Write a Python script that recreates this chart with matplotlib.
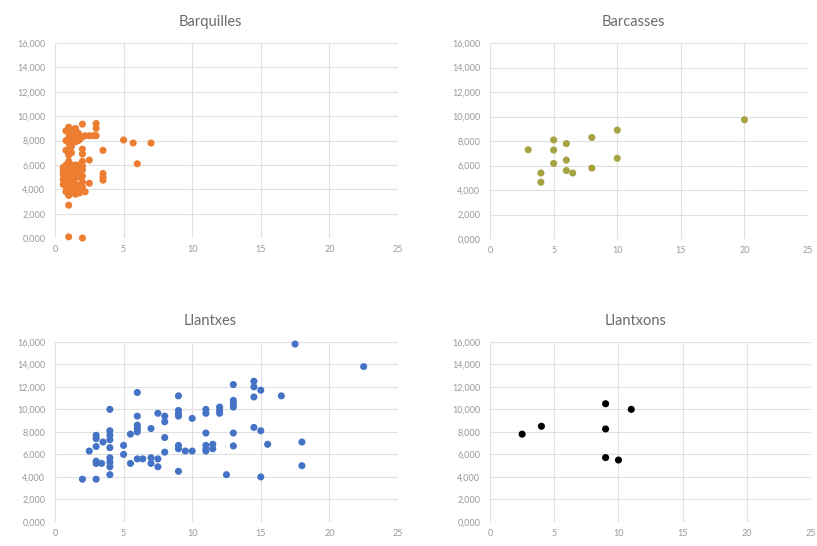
import matplotlib.pyplot as plt
from matplotlib.ticker import FuncFormatter

plt.rcParams['font.family'] = ['Lato', 'DejaVu Sans']

barquilles_x = [1.0, 2.0,
                0.6, 0.6, 0.6, 0.6, 0.6,
                0.8, 0.8, 0.8, 0.8, 0.8, 0.8, 0.8, 0.8, 0.8, 0.8,
                1.0, 1.0, 1.0, 1.0, 1.0, 1.0, 1.0, 1.0, 1.0, 1.0, 1.0, 1.0, 1.0, 1.0,
                1.2, 1.2, 1.2, 1.2, 1.2, 1.2, 1.2, 1.2, 1.2, 1.2, 1.2,
                1.4, 1.4, 1.4, 1.4, 1.4, 1.4,
                1.5, 1.5, 1.5, 1.5, 1.5, 1.5, 1.5, 1.5, 1.5, 1.5,
                1.7, 1.7, 1.7, 1.7,
                1.8, 1.8, 1.8, 1.8, 1.8, 1.8, 1.8,
                2.0, 2.0, 2.0, 2.0, 2.0, 2.0, 2.0, 2.0, 2.0, 2.0, 2.0,
                2.2, 2.2, 2.5, 2.5, 2.5, 2.8, 3.0, 3.0, 3.0,
                3.5, 3.5, 3.5, 3.5, 5.0, 5.7, 6.0, 7.0]
barquilles_y = [0.1, 0.0,
                4.8, 5.2, 5.5, 5.8, 4.4,
                3.8, 4.2, 4.6, 5.0, 5.4, 5.7, 6.0, 7.2, 8.0, 8.8,
                2.7, 3.5, 3.9, 4.3, 4.8, 5.3, 5.8, 6.3, 6.8, 7.3, 7.8, 8.2, 8.6, 9.1,
                3.7, 4.1, 4.5, 5.0, 5.5, 6.0, 7.0, 7.5, 8.0, 8.5, 8.9,
                3.8, 4.7, 5.3, 5.9, 8.2, 8.7,
                3.6, 4.0, 4.4, 5.2, 5.6, 6.0, 7.9, 8.3, 8.8, 9.0,
                4.3, 5.8, 8.0, 8.6,
                3.7, 4.1, 5.0, 5.5, 6.0, 8.1, 8.4,
                3.9, 4.2, 4.6, 5.1, 5.6, 5.9, 6.3, 6.9, 7.3, 8.3, 9.35,
                3.8, 8.4, 4.5, 6.4, 8.4, 8.4, 8.4, 9.0, 9.4,
                4.75, 5.0, 5.3, 7.2, 8.05, 7.8, 6.1, 7.8]

barcasses_x = [3, 4, 4, 5, 5, 5, 6, 6, 6, 6.5, 8, 8, 10, 10, 20]
barcasses_y = [7.3, 5.4, 4.65, 8.1, 7.27, 6.18, 7.8, 6.45, 5.6, 5.4, 8.3, 5.8, 8.9, 6.6, 9.75]

llantxes_x = [2, 3, 2.5, 3, 3, 3, 3, 3, 3.4, 3.5,
              4, 4, 4, 4, 4, 4, 4, 4, 4,
              5, 5, 5.5, 5.5, 6, 6, 6, 6, 6, 6, 6.4,
              7, 7, 7, 7.5, 7.5, 7.5, 8, 8, 8, 8,
              9, 9, 9, 9, 9, 9, 9, 9.5, 10, 10,
              11, 11, 11, 11, 11, 11, 11.5, 11.5, 12, 12, 12,
              12.5, 13, 13, 13, 13, 13, 13,
              14.5, 14.5, 14.5, 14.5, 15, 15, 15, 15.5,
              16.5, 17.5, 18, 18, 22.5]
llantxes_y = [3.8, 3.8, 6.3, 7.7, 7.4, 6.7, 5.4, 5.2, 5.2, 7.1,
              10.0, 8.1, 7.7, 7.3, 6.6, 5.7, 5.3, 4.9, 4.2,
              6.8, 6.0, 5.2, 7.8, 11.5, 9.4, 8.6, 8.3, 8.0, 5.6, 5.6,
              8.3, 5.7, 5.2, 9.65, 5.6, 4.9, 9.4, 8.9, 7.5, 6.2,
              11.2, 9.9, 9.6, 9.4, 6.8, 6.5, 4.5, 6.3, 9.2, 6.3,
              10.0, 9.65, 7.9, 6.8, 6.5, 6.3, 6.9, 6.5, 10.2, 9.9, 9.65,
              4.2, 12.2, 10.8, 10.5, 10.2, 7.9, 6.75,
              12.5, 12.0, 11.1, 8.4, 11.7, 8.1, 4.0, 6.9,
              11.2, 15.8, 7.1, 5.0, 13.8]

llantxons_x = [2.5, 4, 9, 9, 9, 10, 11]
llantxons_y = [7.8, 8.5, 10.5, 8.26, 5.72, 5.5, 10.0]

panels = [
    ('Barquilles', barquilles_x, barquilles_y, '#ED7D31', [0.0673, 0.564, 0.4198, 0.357]),
    ('Barcasses', barcasses_x, barcasses_y, '#A6A345', [0.5998, 0.562, 0.3893, 0.359]),
    ('Llantxes', llantxes_x, llantxes_y, '#4472C4', [0.0673, 0.044, 0.4198, 0.330]),
    ('Llantxons', llantxons_x, llantxons_y, '#000000', [0.5998, 0.044, 0.3929, 0.330]),
]


def y_label(v, pos):
    return ('%.3f' % v).replace('.', ',')


def draw_panel(fig, title, xs, ys, color, rect):
    ax = fig.add_axes(rect)
    ax.scatter(xs, ys, s=26, color=color, edgecolors='none', zorder=3, clip_on=False)
    ax.set_xlim(0, 25)
    ax.set_ylim(0, 16)
    ax.set_xticks(range(0, 26, 5))
    ax.set_yticks(range(0, 17, 2))
    ax.yaxis.set_major_formatter(FuncFormatter(y_label))
    ax.grid(True, color='#e0e0e0', linewidth=0.8)
    ax.set_axisbelow(True)
    for side in ax.spines:
        ax.spines[side].set_visible(False)
    ax.tick_params(length=0, labelsize=6.5, colors='#999999')
    ax.tick_params(axis='y', pad=7)
    ax.tick_params(axis='x', pad=5)
    ax.set_title(title, x=0.452, pad=12, fontsize=10.5, color='#6b6b6b')
    return ax


fig = plt.figure(figsize=(8.17, 5.46), dpi=100)
for title, xs, ys, color, rect in panels:
    draw_panel(fig, title, xs, ys, color, rect)
fig.savefig('out.png', dpi=100, facecolor='white')
plt.close()
